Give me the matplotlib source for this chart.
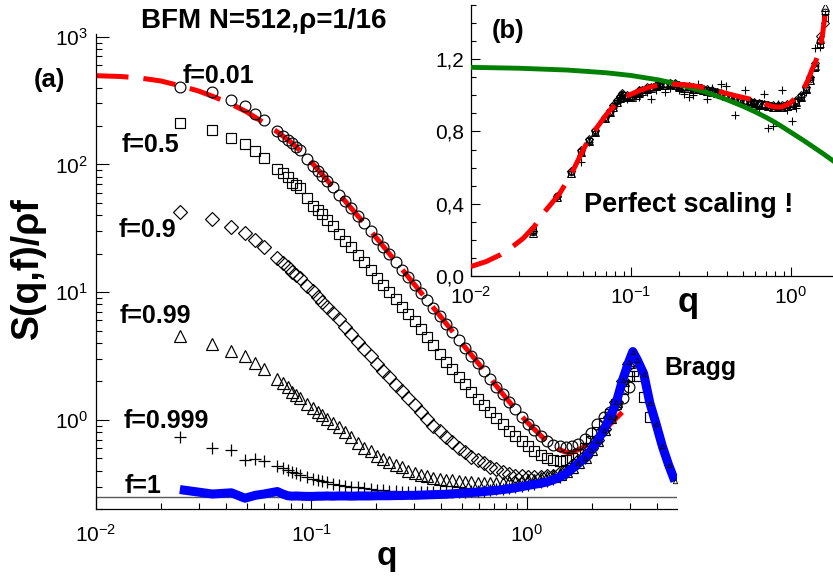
import numpy as np
import matplotlib
matplotlib.use('Agg')
import matplotlib.pyplot as plt
from matplotlib.ticker import LogLocator, NullFormatter, MultipleLocator, FuncFormatter

plt.rcParams['font.family'] = ['Liberation Sans', 'DejaVu Sans']
plt.rcParams['mathtext.fontset'] = 'custom'
plt.rcParams['mathtext.rm'] = 'Liberation Sans'
plt.rcParams['mathtext.it'] = 'Liberation Sans:italic'
plt.rcParams['mathtext.bf'] = 'Liberation Sans:bold'

nan = np.nan

# wave vectors shared by all series
q = np.array([
    0.0245, 0.0347, 0.0425, 0.0491, 0.0549, 0.0601, 0.0694, 0.0736, 0.0776, 0.0814,
    0.0850, 0.0885, 0.0952, 0.1012, 0.1070, 0.1125, 0.1178, 0.1255, 0.1340, 0.1430,
    0.1530, 0.1640, 0.1760, 0.1880, 0.2010, 0.2150, 0.2300, 0.2460, 0.2630, 0.2810,
    0.3010, 0.3220, 0.3440, 0.3680, 0.3940, 0.4210, 0.4500, 0.4820, 0.5150, 0.5510,
    0.5900, 0.6310, 0.6750, 0.7220, 0.7720, 0.8260, 0.8830, 0.9450, 1.0100, 1.0800,
    1.1600, 1.2400, 1.3200, 1.4200, 1.5200, 1.6200, 1.7300, 1.8500, 1.9800, 2.1200,
    2.2700, 2.4300, 2.6000, 2.7800, 2.9700, 3.1000, 3.2500, 3.4800, 3.7200, 3.9800,
    4.2500, 4.5500, 4.8600])

# panel (a): S(q,f)/rho f
s_001 = np.array([
    404, 366, 318, 286, 250, 222, 182, 168, 156, 146,
    137, 129, 110, 97, 88, 81, 74, 66, 58, 51.5,
    45.5, 39.5, 34.5, 30.0, 26.0, 22.6, 19.8, 17.2, 15.0, 13.1,
    11.4, 9.9, 8.6, 7.45, 6.45, 5.6, 4.85, 4.2, 3.65, 3.17,
    2.76, 2.40, 2.09, 1.82, 1.58, 1.38, 1.21, 1.06, 0.93, 0.83,
    0.74, 0.68, 0.64, 0.62, 0.61, 0.62, 0.65, 0.71, 0.79, 0.92,
    1.06, 1.16, 1.30, 1.48, 1.80, nan, nan, nan, nan, nan,
    nan, nan, nan])
s_05 = np.array([
    210, 185, 160, 144, 127, 112, 92, 85, 79, 72,
    69, 65, 55, 47, 44, 41, 37, 33, 28.5, 25,
    22.5, 19.5, 17.2, 15.0, 13.0, 11.4, 10.1, 8.8, 7.7, 6.75,
    5.89, 5.1, 4.45, 3.87, 3.25, 2.85, 2.48, 2.16, 1.90, 1.66,
    1.46, 1.30, 1.15, 1.04, 0.92, 0.82, 0.74, 0.68, 0.62, 0.57,
    0.53, 0.50, 0.485, 0.475, 0.48, 0.50, 0.54, 0.60, 0.68, 0.80,
    0.95, 1.10, 1.34, 1.75, 2.2, 2.4, 2.2, 1.5, 1.05, nan,
    nan, nan, nan])
s_09 = np.array([
    42.5, 37.2, 32.5, 29.2, 25.6, 22.7, 18.6, 17.0, 15.6, 14.4,
    13.6, 12.8, 11.2, 10.2, 9.2, 8.4, 7.7, 6.9, 6.1, 5.35,
    4.7, 4.1, 3.6, 3.15, 2.75, 2.42, 2.15, 1.88, 1.67, 1.48,
    1.31, 1.16, 1.02, 0.90, 0.81, 0.73, 0.665, 0.60, 0.555, 0.515,
    0.48, 0.455, 0.43, 0.41, 0.39, 0.375, 0.365, 0.36, 0.355, 0.355,
    0.355, 0.36, 0.365, 0.38, 0.40, 0.435, 0.475, 0.52, 0.60, 0.70,
    0.85, 1.06, 1.37, 2.0, 2.75, nan, nan, nan, nan, nan,
    nan, nan, nan])
s_099 = np.array([
    4.55, 3.9, 3.45, 3.15, 2.78, 2.5, 2.09, 1.93, 1.79, 1.66,
    1.57, 1.48, 1.33, 1.24, 1.14, 1.08, 1.02, 0.95, 0.87, 0.80,
    0.73, 0.66, 0.60, 0.565, 0.52, 0.49, 0.465, 0.445, 0.425, 0.40,
    0.38, 0.37, 0.36, 0.35, 0.345, 0.34, 0.335, 0.33, 0.325, 0.323,
    0.321, 0.32, 0.32, 0.32, 0.322, 0.325, 0.328, 0.332, 0.335, 0.34,
    0.348, 0.355, 0.365, 0.375, 0.395, 0.425, 0.465, 0.51, 0.585, 0.69,
    0.84, 1.06, 1.39, 2.05, 2.85, nan, nan, nan, nan, nan,
    nan, nan, nan])
s_0999 = np.array([
    0.733, 0.601, 0.584, 0.488, 0.495, 0.472, 0.437, 0.420, 0.405, 0.390,
    0.380, 0.372, 0.358, 0.346, 0.338, 0.330, 0.324, 0.316, 0.309, 0.303,
    0.299, 0.296, 0.291, 0.287, 0.283, 0.280, 0.277, 0.275, 0.273, 0.272,
    0.271, 0.270, 0.270, 0.270, 0.270, 0.270, 0.271, 0.272, 0.273, 0.275,
    0.277, 0.279, 0.282, 0.285, 0.288, 0.292, 0.296, 0.301, 0.307, 0.315,
    0.323, 0.330, 0.343, 0.358, 0.383, 0.418, 0.458, 0.50, 0.576, 0.68,
    0.83, 1.05, 1.38, 2.05, 2.85, nan, nan, nan, nan, nan,
    nan, nan, nan])
s_1 = np.array([
    0.284, 0.262, 0.268, 0.243, 0.256, 0.262, 0.274, 0.262, 0.254, 0.252,
    0.253, 0.252, 0.251, 0.251, 0.252, 0.252, 0.253, 0.252, 0.253, 0.253,
    0.252, 0.253, 0.253, 0.253, 0.254, 0.254, 0.254, 0.255, 0.255, 0.256,
    0.256, 0.257, 0.258, 0.259, 0.260, 0.261, 0.263, 0.265, 0.267, 0.269,
    0.271, 0.274, 0.277, 0.280, 0.284, 0.288, 0.293, 0.299, 0.306, 0.312,
    0.318, 0.326, 0.338, 0.355, 0.38, 0.415, 0.455, 0.50, 0.575, 0.68,
    0.83, 1.05, 1.38, 2.05, 2.85, 3.42, 2.95, 2.3, 1.35, 0.92,
    0.62, 0.44, 0.33])

# fit for f=0.01
q_fit_a = [0.010, 0.013, 0.016, 0.020, 0.025, 0.030, 0.035, 0.040, 0.045, 0.050,
           0.060, 0.070, 0.080, 0.090, 0.100, 0.120, 0.140, 0.160, 0.180, 0.200,
           0.250, 0.300, 0.350, 0.400, 0.500, 0.600, 0.700, 0.800, 0.900, 1.000,
           1.100, 1.200, 1.300, 1.400, 1.500, 1.600, 1.800, 2.000, 2.200, 2.400,
           2.600, 2.900]
s_fit_a = [495, 488, 475, 450, 410, 375, 340, 310, 282, 258,
           212, 178, 150, 125, 104, 73, 54, 41.5, 33, 26.6,
           16.8, 11.5, 8.35, 6.35, 3.95, 2.72, 1.96, 1.48, 1.17, 0.96,
           0.82, 0.71, 0.64, 0.59, 0.56, 0.55, 0.60, 0.68, 0.77, 0.90,
           1.03, 1.24]

# panel (b): rescaled data, first 56 q values
b_001 = [0.243, 0.441, 0.574, 0.690, 0.753, 0.802, 0.877, 0.910, 0.939, 0.967,
         0.990, 1.005, 0.997, 0.993, 1.008, 1.025, 1.027, 1.040, 1.041, 1.053,
         1.062, 1.062, 1.066, 1.060, 1.050, 1.045, 1.047, 1.041, 1.038, 1.034,
         1.030, 1.024, 1.016, 1.008, 1.000, 0.993, 0.982, 0.976, 0.968, 0.962,
         0.958, 0.952, 0.948, 0.945, 0.940, 0.940, 0.942, 0.946, 0.952, 0.968,
         0.996, 1.040, 1.090, 1.165, 1.300, 1.460]
b_05 = [0.255, 0.430, 0.565, 0.685, 0.745, 0.795, 0.870, 0.905, 0.930, 0.960,
        0.985, 1.000, 0.990, 0.995, 1.010, 1.020, 1.030, 1.035, 1.045, 1.050,
        1.058, 1.060, 1.064, 1.062, 1.055, 1.048, 1.044, 1.040, 1.035, 1.030,
        1.027, 1.020, 1.012, 1.005, 0.998, 0.990, 0.984, 0.975, 0.970, 0.964,
        0.958, 0.955, 0.950, 0.946, 0.942, 0.938, 0.940, 0.944, 0.950, 0.965,
        0.990, 1.030, 1.080, 1.150, 1.280, 1.430]
b_09 = [0.250, 0.445, 0.580, 0.695, 0.760, 0.808, 0.882, 0.915, 0.945, 0.972,
        0.995, 1.012, 1.000, 0.998, 1.012, 1.030, 1.032, 1.045, 1.048, 1.058,
        1.066, 1.068, 1.070, 1.066, 1.058, 1.052, 1.050, 1.046, 1.042, 1.037,
        1.033, 1.028, 1.020, 1.012, 1.004, 0.996, 0.988, 0.980, 0.972, 0.966,
        0.962, 0.956, 0.952, 0.948, 0.944, 0.944, 0.946, 0.950, 0.956, 0.972,
        1.002, 1.048, 1.100, 1.180, 1.330, 1.400]
b_099 = [0.240, 0.435, 0.570, 0.685, 0.750, 0.798, 0.872, 0.905, 0.935, 0.962,
         0.985, 1.002, 0.992, 0.990, 1.004, 1.020, 1.022, 1.036, 1.038, 1.050,
         1.058, 1.058, 1.062, 1.056, 1.046, 1.041, 1.043, 1.037, 1.034, 1.030,
         1.026, 1.020, 1.012, 1.005, 0.997, 0.990, 0.979, 0.972, 0.965, 0.958,
         0.955, 0.948, 0.944, 0.941, 0.937, 0.936, 0.938, 0.942, 0.948, 0.962,
         0.990, 1.035, 1.085, 1.160, 1.310, 1.490]
b_0999 = [0.250, 0.440, 0.580, 0.630, 0.740, 0.800, 0.880, 0.920, 0.930, 0.960,
          0.990, 1.000, 0.980, 0.990, 1.000, 0.990, 1.030, 1.020, 0.980, 1.030,
          1.050, 1.020, 1.040, 1.060, 1.030, 1.010, 0.990, 1.000, 1.060, 1.030,
          0.980, 1.040, 1.020, 1.060, 1.050, 0.980, 0.890, 0.960, 1.030, 0.970,
          0.950, 0.930, 1.010, 0.820, 0.830, 0.950, 1.030, 0.920, 0.860, 0.930,
          0.990, 1.020, 1.100, 1.260, 1.270, 1.450]

q_fit_b = [0.010, 0.0125, 0.0152, 0.018, 0.0213, 0.025, 0.0284, 0.032, 0.036, 0.040,
           0.0437, 0.048, 0.053, 0.058, 0.0642, 0.072, 0.0815, 0.093, 0.1087, 0.13,
           0.152, 0.18, 0.223, 0.28, 0.36, 0.45, 0.581, 0.68, 0.775, 0.87,
           0.984, 1.08, 1.19, 1.27, 1.35, 1.43, 1.51, 1.57, 1.63]
r_fit_b = [0.052, 0.080, 0.116, 0.158, 0.209, 0.275, 0.347, 0.402, 0.458, 0.525,
           0.587, 0.660, 0.735, 0.790, 0.846, 0.905, 0.956, 0.993, 1.020, 1.045,
           1.058, 1.062, 1.058, 1.045, 1.020, 0.998, 0.975, 0.955, 0.937, 0.935,
           0.956, 0.990, 1.030, 1.080, 1.140, 1.190, 1.250, 1.330, 1.440]

q_green = [0.01, 0.02, 0.04, 0.07, 0.1, 0.15, 0.2, 0.3, 0.4, 0.5,
           0.6, 0.7, 0.8, 0.9, 1.0, 1.2, 1.4, 1.6, 1.83]
v_green = [1.155, 1.150, 1.140, 1.125, 1.110, 1.085, 1.060, 1.015, 0.975, 0.940,
           0.908, 0.878, 0.849, 0.821, 0.795, 0.750, 0.710, 0.675, 0.638]

W, H = 833, 576
fig = plt.figure(figsize=(W / 100, H / 100), dpi=100)


def box(x0, y0, x1, y1):
    return [x0 / W, 1 - y1 / H, (x1 - x0) / W, (y1 - y0) / H]


def label(x, y, s, size, **kw):
    fig.text(x / W, 1 - y / H, s, fontsize=size, fontweight='bold',
             ha='center', va='baseline', **kw)


mk = dict(ls='none', mfc='none', mec='black')

# ---- main panel (a)
ax = fig.add_axes(box(96, 34, 677, 509))
ax.set_xscale('log')
ax.set_yscale('log')
ax.set_xlim(0.01, 4.97)
ax.set_ylim(0.2, 1050)

ax.axhline(0.25, color='0.35', lw=1.0, zorder=1)
ax.plot(q_fit_a, s_fit_a, color='red', lw=3.6, dashes=(6.5, 3), zorder=2)
ax.plot(q, s_001, marker='o', ms=7.8, mew=0.85, zorder=3, **mk)
ax.plot(q, s_05, marker='s', ms=7.2, mew=0.85, zorder=3, **mk)
ax.plot(q, s_09, marker='D', ms=6.8, mew=0.85, zorder=3, **mk)
ax.plot(q, s_099, marker='^', ms=8.6, mew=0.85, zorder=3, **mk)
ax.plot(q, s_0999, marker='+', ms=8, mew=0.9, zorder=3, **mk)
ax.plot(q, s_1, color='blue', lw=6.5, solid_capstyle='butt', zorder=5)
ax.plot(q[q > 1.7], s_1[q > 1.7], marker='^', ms=3.2, mew=0.6, zorder=6, **mk)

for side in ['top', 'right']:
    ax.spines[side].set_visible(False)
for side in ['left', 'bottom']:
    ax.spines[side].set_linewidth(0.9)
for axis in [ax.xaxis, ax.yaxis]:
    axis.set_major_locator(LogLocator(base=10, numticks=10))
    axis.set_minor_locator(LogLocator(base=10, subs=np.arange(2, 10), numticks=20))
    axis.set_minor_formatter(NullFormatter())
ax.tick_params(which='both', direction='in', top=False, right=False, width=0.8)
ax.tick_params(which='major', length=9, labelsize=15)
ax.tick_params(which='minor', length=4.5)
ax.tick_params(axis='x', which='major', pad=11)
ax.tick_params(axis='y', which='major', pad=6)

label(387, 565, 'q', 24)
fig.text(28 / W, 1 - 268 / H, 'S(q,f)/ρf', fontsize=27, fontweight='bold',
         rotation=90, ha='center', va='center')
label(264, 28, 'BFM N=512,ρ=1/16', 20)
label(49, 87, '(a)', 18.5)
label(218, 83, 'f=0.01', 18)
label(150, 152, 'f=0.5', 18)
label(147, 237, 'f=0.9', 18)
label(155, 323, 'f=0.99', 18)
label(166, 428, 'f=0.999', 18)
label(143, 493, 'f=1', 18)
label(700, 375, 'Bragg', 18)

# ---- inset panel (b)
axb = fig.add_axes(box(470.7, 5, 833, 276))
axb.set_xscale('log')
axb.set_xlim(0.01, 1.83)
axb.set_ylim(0, 1.5)
qb = q[:56]
axb.plot(qb, b_001, marker='o', ms=4.8, mew=0.7, zorder=2, **mk)
axb.plot(qb, b_05, marker='s', ms=4.4, mew=0.7, zorder=2, **mk)
axb.plot(qb, b_09, marker='D', ms=4.2, mew=0.7, zorder=2, **mk)
axb.plot(qb, b_099, marker='^', ms=5.2, mew=0.7, zorder=2, **mk)
axb.plot(qb, b_0999, marker='+', ms=6, mew=0.8, zorder=2, **mk)
axb.plot(q_green, v_green, color='#008000', lw=3.5, zorder=3)
axb.plot(q_fit_b, r_fit_b, color='red', lw=3.6, dashes=(6.5, 3), zorder=4)

for side in ['top', 'right']:
    axb.spines[side].set_visible(False)
for side in ['left', 'bottom']:
    axb.spines[side].set_linewidth(0.9)
axb.xaxis.set_major_locator(LogLocator(base=10, numticks=10))
axb.xaxis.set_minor_locator(LogLocator(base=10, subs=np.arange(2, 10), numticks=20))
axb.xaxis.set_minor_formatter(NullFormatter())
axb.yaxis.set_major_locator(MultipleLocator(0.4))
axb.yaxis.set_minor_locator(MultipleLocator(0.1))
axb.yaxis.set_major_formatter(FuncFormatter(lambda v, p: f'{v:.1f}'.replace('.', ',')))
axb.tick_params(which='both', direction='in', top=False, right=False, width=0.8)
axb.tick_params(which='major', length=6.5, labelsize=15)
axb.tick_params(which='minor', length=3.5)
axb.tick_params(axis='x', which='major', pad=7)
axb.tick_params(axis='y', which='major', pad=5)

label(688, 312, 'q', 25)
label(508, 38, '(b)', 18.5)
label(689, 212, 'Perfect scaling !', 19.5)

fig.savefig('out.png', dpi=100)
